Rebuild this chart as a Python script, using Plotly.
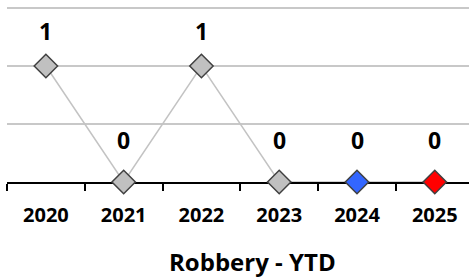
import plotly.graph_objects as go

years = ["2020", "2021", "2022", "2023", "2024", "2025"]
values = [1, 0, 1, 0, 0, 0]
marker_colors = ["#C0C0C0", "#C0C0C0", "#C0C0C0", "#C0C0C0", "#3366FF", "#FF0000"]
title_text = "Robbery - YTD"

FONT = "Open Sans, Lato, sans-serif"

fig = go.Figure()
fig.add_trace(go.Scatter(
    x=list(range(len(years))), y=values, mode="lines+markers",
    line=dict(color="#C3C3C3", width=1.5),
    marker=dict(symbol="diamond", size=18, color=marker_colors,
                line=dict(color="#404040", width=1.5)),
    cliponaxis=False, hoverinfo="skip",
))

for i, yv in enumerate(values):
    fig.add_annotation(x=i, y=yv, text=f"<b>{yv}</b>", showarrow=False,
                       yshift=(35 if yv > 0 else 42),
                       font=dict(family=FONT, size=23, color="#000"))

fig.add_annotation(xref="paper", yref="paper", x=0.531, y=-0.45, xanchor="center", yanchor="middle",
                   text=f"<b>{title_text}</b>",
                   showarrow=False, font=dict(family=FONT, size=24, color="#000"))

fig.update_layout(
    width=469, height=280,
    margin=dict(l=7, r=0, t=5, b=98),
    paper_bgcolor="white", plot_bgcolor="white",
    showlegend=False,
    xaxis=dict(range=[-0.5, 5.44], showgrid=False, zeroline=False,
               tickmode="array", tickvals=list(range(len(years))), ticktext=[f"<b>{y}</b>" for y in years],
               ticks="", showline=True, linecolor="#000", linewidth=1.5,
               tickfont=dict(family=FONT, size=20, color="#000"),
               ticklabelstandoff=14,
               minor=dict(tickmode="array", tickvals=[i - 0.5 for i in range(len(years) + 1)],
                          ticks="outside", ticklen=7, tickwidth=1.5, tickcolor="#000", showgrid=False),
               layer="below traces", fixedrange=True),
    yaxis=dict(range=[0, 1.526], tickvals=[0.5, 1.0, 1.5], showgrid=True, gridcolor="#C8C8C8", gridwidth=1.5,
               showticklabels=False, zeroline=False, showline=False, fixedrange=True),
)

fig.write_html("out.html", config={"displayModeBar": False},
               post_script="document.body.style.margin='0';document.body.style.overflow='hidden';")
